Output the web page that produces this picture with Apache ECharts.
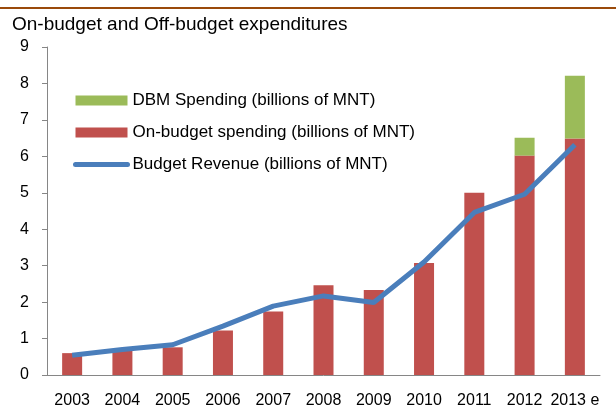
<!DOCTYPE html>
<html>
<head>
<meta charset="utf-8">
<script src="https://cdn.jsdelivr.net/npm/echarts@6/dist/echarts.min.js"></script>
<style>
  html, body { margin: 0; padding: 0; background: #ffffff; }
  #chart { width: 616px; height: 409px; }
</style>
</head>
<body>
<div id="chart"></div>
<script>
// categories and values (billions of MNT)
const years = ['2003', '2004', '2005', '2006', '2007', '2008', '2009', '2010', '2011', '2012', '2013 e']
const onBudget = [0.60, 0.68, 0.76, 1.22, 1.74, 2.46, 2.33, 3.07, 5.00, 6.02, 6.49]
const dbmSpending = [null, null, null, null, null, null, null, null, null, 0.49, 1.72]
const revenue = [0.54, 0.70, 0.83, 1.34, 1.89, 2.17, 1.99, 3.10, 4.46, 4.96, 6.32]
const yTicks = [0, 1, 2, 3, 4, 5, 6, 7, 8, 9]

const font = 'Liberation Sans, Arial, sans-serif'
const axisColor = '#868686'

const chart = echarts.init(document.getElementById('chart'))

chart.setOption({
  animation: false,
  textStyle: { fontFamily: font },
  title: {
    text: 'On-budget and Off-budget expenditures',
    left: 7,
    top: 10,
    textStyle: { fontSize: 19, fontWeight: 'normal', color: '#000000', fontFamily: font },
  },
  graphic: [
    {
      type: 'rect',
      shape: { x: 0, y: 7, width: 616, height: 2 },
      style: { fill: '#9a4a0a' },
    },
  ],
  legend: {
    orient: 'vertical',
    left: 73,
    top: 92,
    padding: 0,
    itemWidth: 52,
    itemHeight: 10,
    itemGap: 15,
    data: [
      { name: 'DBM Spending (billions of MNT)', icon: 'rect' },
      { name: 'On-budget spending (billions of MNT)', icon: 'rect' },
      {
        name: 'Budget Revenue (billions of MNT)',
        itemStyle: { opacity: 0 },
        lineStyle: { width: 5, cap: 'round', color: '#4a7ebb' },
      },
    ],
    textStyle: { fontSize: 17, color: '#000000', fontFamily: font },
  },
  grid: { left: 47, right: 16, top: 47, bottom: 32 },
  xAxis: {
    type: 'category',
    data: years,
    axisLine: { lineStyle: { color: axisColor } },
    axisTick: { length: 5, lineStyle: { color: axisColor } },
    axisLabel: { color: '#000000', fontSize: 16, margin: 18, interval: 0 },
  },
  yAxis: {
    type: 'value',
    min: yTicks[0],
    max: yTicks[yTicks.length - 1],
    interval: 1,
    axisLine: { show: true, lineStyle: { color: axisColor } },
    axisTick: { show: true, length: 5, lineStyle: { color: axisColor } },
    axisLabel: { color: '#000000', fontSize: 16, margin: 18 },
    splitLine: { show: false },
  },
  series: [
    {
      name: 'On-budget spending (billions of MNT)',
      type: 'bar',
      stack: 'spend',
      barWidth: 20,
      data: onBudget,
      itemStyle: { color: '#c0504d' },
    },
    {
      name: 'DBM Spending (billions of MNT)',
      type: 'bar',
      stack: 'spend',
      barWidth: 20,
      data: dbmSpending,
      itemStyle: { color: '#9bbb59' },
    },
    {
      name: 'Budget Revenue (billions of MNT)',
      type: 'line',
      data: revenue,
      symbol: 'none',
      z: 5,
      lineStyle: { color: '#4a7ebb', width: 5 },
      itemStyle: { color: '#4a7ebb' },
    },
  ],
})
</script>
</body>
</html>
